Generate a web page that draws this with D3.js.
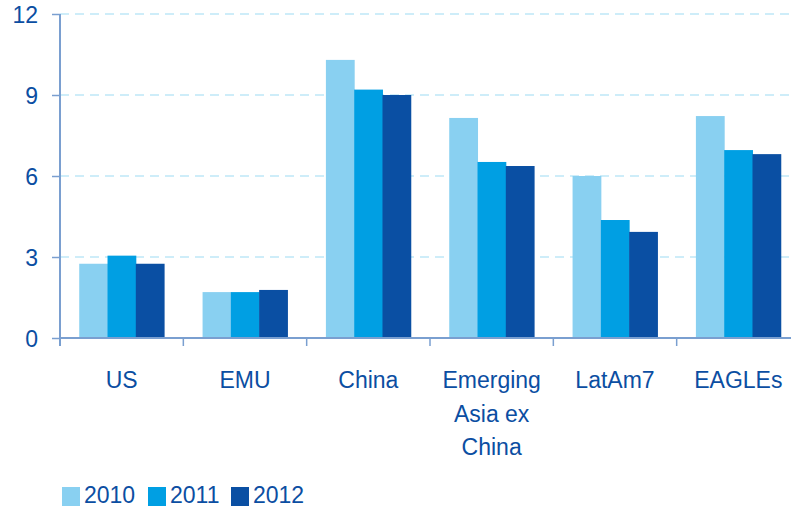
<!DOCTYPE html>
<html><head><meta charset="utf-8">
<script src="https://cdn.jsdelivr.net/npm/d3@7"></script>
<style>body{margin:0;background:#fff}svg{display:block}text{font-family:"Liberation Sans",Arial,sans-serif;fill:#0b4ea2}</style>
</head><body><svg id="c" width="791" height="508"></svg>
<script>
const categories = [["US"],["EMU"],["China"],["Emerging","Asia ex","China"],["LatAm7"],["EAGLEs"]];
const years = ["2010","2011","2012"];
const v2010 = [2.75,1.70,10.3,8.15,6.0,8.22];
const v2011 = [3.05,1.70,9.2,6.52,4.37,6.96];
const v2012 = [2.75,1.78,9.0,6.37,3.93,6.81];
const yTicks = [0,3,6,9,12];
const colors = ["#89d0f1","#009fe3","#0a4fa3"];
const series = [v2010,v2011,v2012];

const svg = d3.select("#c");
const names = categories.map(c=>c.join(" "));
const x0 = d3.scaleBand().domain(names).range([60,800]).paddingInner(0).paddingOuter(0);
const x1 = d3.scaleBand().domain(years).range([0,x0.bandwidth()]).paddingInner(0).paddingOuter(0.68);
const y = d3.scaleLinear().domain([0,12]).range([338,14]);

// grid
svg.append("g").selectAll("line").data(yTicks.filter(d=>d>0)).join("line")
 .attr("x1",60).attr("x2",791).attr("y1",d=>y(d)).attr("y2",d=>y(d))
 .attr("stroke","#bfe7f8").attr("stroke-width",1.5).attr("stroke-dasharray","9,6");

// bars
const g = svg.append("g");
names.forEach((n,i)=>{
  years.forEach((yr,j)=>{
    g.append("rect").attr("x",x0(n)+x1(yr)).attr("width",x1.bandwidth()+0.5)
     .attr("y",y(series[j][i])).attr("height",y(0)-y(series[j][i])).attr("fill",colors[j]);
  });
});

// y axis
const ya = svg.append("g").attr("transform","translate(60,0)")
 .call(d3.axisLeft(y).tickValues(yTicks).tickSize(8).tickPadding(14).tickFormat(d3.format("d")));
ya.select(".domain").attr("d","M0,14V346").attr("stroke","#7a9fd0").attr("stroke-width",2);
ya.selectAll(".tick line").attr("stroke","#7a9fd0").attr("stroke-width",1.5);
ya.selectAll(".tick text").attr("font-size",23).attr("fill","#0b4ea2").attr("dy","0.35em");

// x axis
svg.append("line").attr("x1",60).attr("x2",791).attr("y1",338).attr("y2",338)
 .attr("stroke","#7a9fd0").attr("stroke-width",2);
svg.append("g").selectAll("line").data(names).join("line")
 .attr("x1",d=>x0(d)).attr("x2",d=>x0(d)).attr("y1",338).attr("y2",346)
 .attr("stroke","#7a9fd0").attr("stroke-width",1.5);

// category labels
names.forEach((n,i)=>{
  const t = svg.append("text").attr("text-anchor","middle").attr("font-size",23)
   .attr("x",x0(n)+x0.bandwidth()/2).attr("y",388);
  categories[i].forEach((line,k)=>{
    t.append("tspan").attr("x",x0(n)+x0.bandwidth()/2).attr("dy",k===0?0:33.5).text(line);
  });
});

// legend
const lx = [62,148,231];
years.forEach((yr,j)=>{
  svg.append("rect").attr("x",lx[j]).attr("y",487).attr("width",18).attr("height",19).attr("fill",colors[j]);
  svg.append("text").attr("x",lx[j]+22).attr("y",503).attr("font-size",23).text(yr);
});
</script></body></html>
